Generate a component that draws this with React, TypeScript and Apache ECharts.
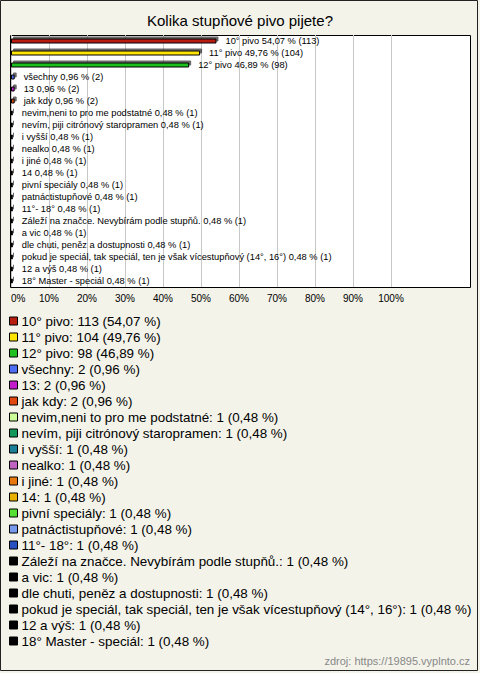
import React, { useEffect, useRef } from "react";
import * as echarts from "echarts";

const title = "Kolika stupňové pivo pijete?";
const source = "zdroj: https://19895.vyplnto.cz";

const categories = [
  "10° pivo",
  "11° pivo",
  "12° pivo",
  "všechny",
  "13",
  "jak kdy",
  "nevim,neni to pro me podstatné",
  "nevím, piji citrónový staropramen",
  "i vyšší",
  "nealko",
  "i jiné",
  "14",
  "pivní speciály",
  "patnáctistupňové",
  "11°- 18°",
  "Záleží na značce. Nevybírám podle stupňů.",
  "a vic",
  "dle chuti, peněz a dostupnosti",
  "pokud je speciál, tak speciál, ten je však vícestupňový (14°, 16°)",
  "12 a výš",
  "18° Master - speciál",
];

const counts = [113, 104, 98, 2, 2, 2, 1, 1, 1, 1, 1, 1, 1, 1, 1, 1, 1, 1, 1, 1, 1];

const percents = [
  54.07, 49.76, 46.89, 0.96, 0.96, 0.96, 0.48, 0.48, 0.48, 0.48, 0.48, 0.48,
  0.48, 0.48, 0.48, 0.48, 0.48, 0.48, 0.48, 0.48, 0.48,
];

const colors = [
  "#b81e0e",
  "#ffe400",
  "#1fc01f",
  "#4d6ef5",
  "#c21ccc",
  "#e0480f",
  "#ccff99",
  "#12995a",
  "#1a7f99",
  "#c062c0",
  "#e8780e",
  "#e8b000",
  "#55e033",
  "#7799ee",
  "#2850c0",
  "#000000",
  "#000000",
  "#000000",
  "#000000",
  "#000000",
  "#000000",
];

const fmt = (v: number) => v.toFixed(2).replace(".", ",");

export default function App() {
  const ref = useRef<HTMLDivElement>(null);

  useEffect(() => {
    if (!ref.current) return;
    const chart = echarts.init(ref.current, undefined, { renderer: "svg" });
    const font = "'Liberation Sans', Arial, sans-serif";

    const series = categories.map((name, i) => ({
      type: "bar",
      name,
      stack: "all",
      barWidth: 5,
      data: categories.map((_, j) => (j === i ? percents[i] : "-")),
      itemStyle: {
        color: colors[i],
        borderColor: "#000",
        borderWidth: 1,
        shadowColor: "rgba(40,40,40,0.7)",
        shadowOffsetX: 2,
        shadowOffsetY: -2,
        shadowBlur: 0,
      },
      label: {
        show: true,
        position: "right",
        distance: 9,
        formatter: `${name} ${fmt(percents[i])} % (${counts[i]})`,
        fontSize: 9.3,
        fontFamily: font,
        color: "#000",
      },
      emphasis: { disabled: true },
    }));

    chart.setOption({
      animation: false,
      backgroundColor: "#f3f3ea",
      title: {
        text: title,
        left: "center",
        top: 8,
        textStyle: {
          fontSize: 15,
          fontWeight: "normal",
          fontFamily: font,
          color: "#000",
        },
      },
      grid: {
        left: 11,
        top: 35,
        width: 380,
        height: 252,
        containLabel: false,
      },
      xAxis: {
        type: "value",
        min: 0,
        max: 100,
        interval: 10,
        axisLine: { show: false },
        axisTick: { show: false },
        splitLine: { show: true, lineStyle: { color: "#c8c8c8", width: 1 } },
        axisLabel: {
          formatter: "{value}%",
          fontSize: 10,
          fontFamily: font,
          color: "#000",
          margin: 6,
          alignMinLabel: "left",
        },
      },
      yAxis: {
        type: "category",
        data: categories,
        inverse: true,
        axisLine: { show: false },
        axisTick: { show: false },
        axisLabel: { show: false },
        splitLine: { show: false },
      },
      legend: {
        orient: "vertical",
        left: 9,
        top: 314,
        padding: 0,
        icon: "rect",
        itemWidth: 8,
        itemHeight: 8,
        itemGap: 2,
        selectedMode: false,
        data: categories,
        itemStyle: {
          borderColor: "#000",
          borderWidth: 1,
          shadowBlur: 0,
          shadowColor: "transparent",
          shadowOffsetX: 0,
          shadowOffsetY: 0,
        },
        textStyle: {
          fontSize: 13.4,
          lineHeight: 14,
          fontFamily: font,
          color: "#000",
          padding: [0, 0, 0, -1],
        },
        formatter: (name: string) => {
          const i = categories.indexOf(name);
          return `${name}: ${counts[i]} (${fmt(percents[i])} %)`;
        },
      },
      graphic: [
        {
          type: "rect",
          z: -1,
          silent: true,
          shape: { x: 0.5, y: 0.5, width: 477, height: 670 },
          style: { fill: "none", stroke: "#222", lineWidth: 1 },
        },
        {
          type: "rect",
          z: -1,
          silent: true,
          shape: { x: 10.5, y: 35.5, width: 460, height: 252 },
          style: { fill: "#fff", stroke: "#000", lineWidth: 1 },
        },
        {
          type: "text",
          right: 10,
          top: 655,
          silent: true,
          style: {
            text: source,
            fontSize: 11,
            fontFamily: font,
            fill: "#888",
          },
        },
      ],
      series,
    });

    return () => chart.dispose();
  }, []);

  return (
    <div
      ref={ref}
      style={{ position: "absolute", left: 0, top: 0, width: 480, height: 673 }}
    />
  );
}
